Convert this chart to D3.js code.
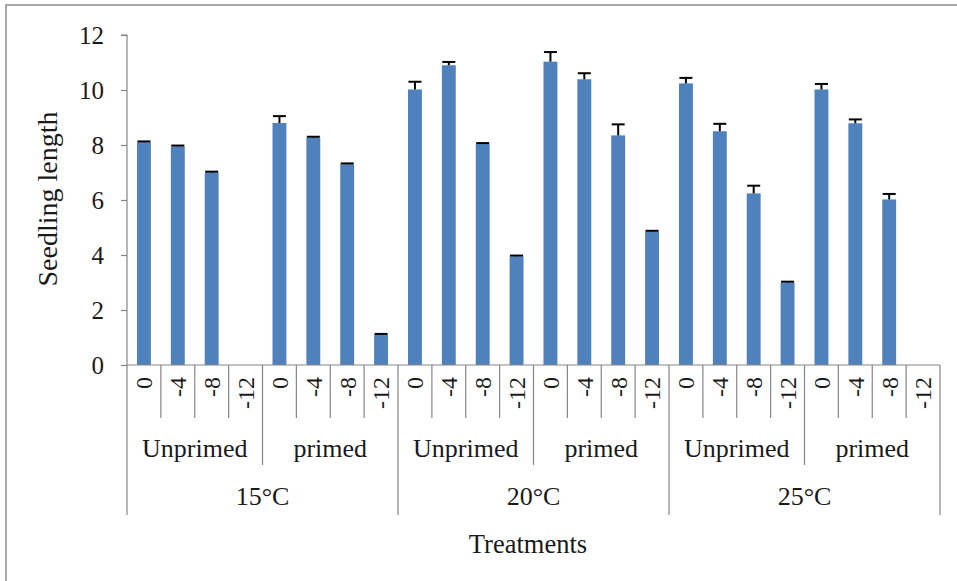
<!DOCTYPE html>
<html>
<head>
<meta charset="utf-8">
<script src="https://cdn.jsdelivr.net/npm/d3@7"></script>
<style>
  html, body { margin: 0; padding: 0; background: #fff; }
  svg { display: block; font-family: "Liberation Serif", "Times New Roman", serif; }
</style>
</head>
<body>
<svg id="chart" width="957" height="581"></svg>
<script>
// ---- data ----
const temperatures = ["15°C", "20°C", "25°C"];
const treatments = ["Unprimed", "primed"];
const potentials = ["0", "-4", "-8", "-12"];
// seedling length, order: temperature > treatment > potential
const values = [
  8.10, 7.95, 7.00, 0,     // 15°C Unprimed
  8.80, 8.27, 7.30, 1.10,  // 15°C primed
  10.02, 10.90, 8.04, 3.95, // 20°C Unprimed
  11.03, 10.39, 8.35, 4.85, // 20°C primed
  10.24, 8.50, 6.24, 3.00,  // 25°C Unprimed
  10.02, 8.79, 6.02, 0      // 25°C primed
];
const errors = [
  0.03, 0.03, 0.03, 0,
  0.25, 0.03, 0.03, 0.03,
  0.28, 0.12, 0.03, 0.03,
  0.35, 0.22, 0.40, 0.03,
  0.20, 0.27, 0.28, 0.03,
  0.20, 0.14, 0.20, 0
];
const yTicks = [0, 2, 4, 6, 8, 10, 12];

// ---- build rows ----
const rows = [];
temperatures.forEach((t, ti) => treatments.forEach((tr, ri) => potentials.forEach((p, pi) => {
  const i = ti * 8 + ri * 4 + pi;
  rows.push({ id: i, temp: t, treat: tr, pot: p, value: values[i], err: errors[i] });
})));

const svg = d3.select("#chart");
const axisColor = "#868686";
const textColor = "#1a1a1a";

// outer frame
svg.append("rect").attr("x", 6).attr("y", 5).attr("width", 1000).attr("height", 1000)
  .attr("fill", "none").attr("stroke", "#8c8c8c").attr("stroke-width", 1.5);

const x0 = 127, x1 = 940, yTop = 35, yBase = 365;
const x = d3.scaleBand().domain(rows.map(d => d.id)).range([x0, x1])
  .paddingInner(0.59).paddingOuter(0.295);
const step = x.step();
const y = d3.scaleLinear().domain([0, 12]).range([yBase, yTop]);

// y axis
const yAxis = d3.axisLeft(y).tickValues(yTicks).tickSize(6).tickPadding(17).tickFormat(d3.format("d"));
const gy = svg.append("g").attr("transform", `translate(${x0},0)`).call(yAxis);
gy.select(".domain").attr("stroke", axisColor).attr("stroke-width", 1.2).attr("d", `M-6,${yTop}H0V${yBase}`);
gy.selectAll(".tick line").attr("stroke", axisColor).attr("stroke-width", 1.2);
gy.selectAll(".tick text").attr("font-size", 25).attr("fill", textColor).attr("font-family", "Liberation Serif");

// bars
svg.append("g").selectAll("rect").data(rows.filter(d => d.value > 0)).join("rect")
  .attr("x", d => x(d.id)).attr("width", x.bandwidth())
  .attr("y", d => y(d.value)).attr("height", d => y(0) - y(d.value))
  .attr("fill", "#4F81BD");

// error bars
const eg = svg.append("g").attr("stroke", "#000").attr("stroke-width", 2);
rows.filter(d => d.value > 0).forEach(d => {
  const cx = x(d.id) + x.bandwidth() / 2;
  eg.append("line").attr("x1", cx).attr("x2", cx).attr("y1", y(d.value)).attr("y2", y(d.value + d.err));
  eg.append("line").attr("x1", cx - 6.5).attr("x2", cx + 6.5).attr("y1", y(d.value + d.err)).attr("y2", y(d.value + d.err));
});

// x axis line
svg.append("line").attr("x1", x0).attr("x2", x1).attr("y1", yBase).attr("y2", yBase)
  .attr("stroke", axisColor).attr("stroke-width", 1.2);

// dividers
const lvl1 = 418, lvl2 = 465, lvl3 = 515;
const dg = svg.append("g").attr("stroke", axisColor).attr("stroke-width", 1.2);
for (let i = 0; i <= rows.length; i++) {
  const xx = x0 + i * step;
  let bottom = lvl1;
  if (i % 8 === 0) bottom = lvl3; else if (i % 4 === 0) bottom = lvl2;
  dg.append("line").attr("x1", xx).attr("x2", xx).attr("y1", yBase).attr("y2", bottom);
}

// potential labels (rotated)
svg.append("g").selectAll("text").data(rows).join("text")
  .attr("transform", d => `translate(${x0 + (d.id + 0.5) * step},377) rotate(-90)`)
  .attr("text-anchor", "end").attr("dy", "0.35em")
  .attr("font-size", 24).attr("fill", textColor)
  .text(d => d.pot);

// treatment labels
const treatGroups = [];
temperatures.forEach((t, ti) => treatments.forEach((tr, ri) => treatGroups.push({ idx: ti * 2 + ri, label: tr })));
svg.append("g").selectAll("text").data(treatGroups).join("text")
  .attr("x", d => x0 + (d.idx * 4 + 2) * step).attr("y", 457)
  .attr("text-anchor", "middle").attr("font-size", 26).attr("fill", textColor)
  .text(d => d.label);

// temperature labels
svg.append("g").selectAll("text").data(temperatures).join("text")
  .attr("x", (d, i) => x0 + (i * 8 + 4) * step).attr("y", 505)
  .attr("text-anchor", "middle").attr("font-size", 26).attr("fill", textColor)
  .text(d => d);

// axis titles
svg.append("text").attr("x", 528).attr("y", 553).attr("text-anchor", "middle")
  .attr("font-size", 26.5).attr("fill", textColor).text("Treatments");
svg.append("text").attr("transform", "translate(57,199) rotate(-90)").attr("text-anchor", "middle")
  .attr("font-size", 28).attr("fill", textColor).text("Seedling length");
</script>
</body>
</html>
